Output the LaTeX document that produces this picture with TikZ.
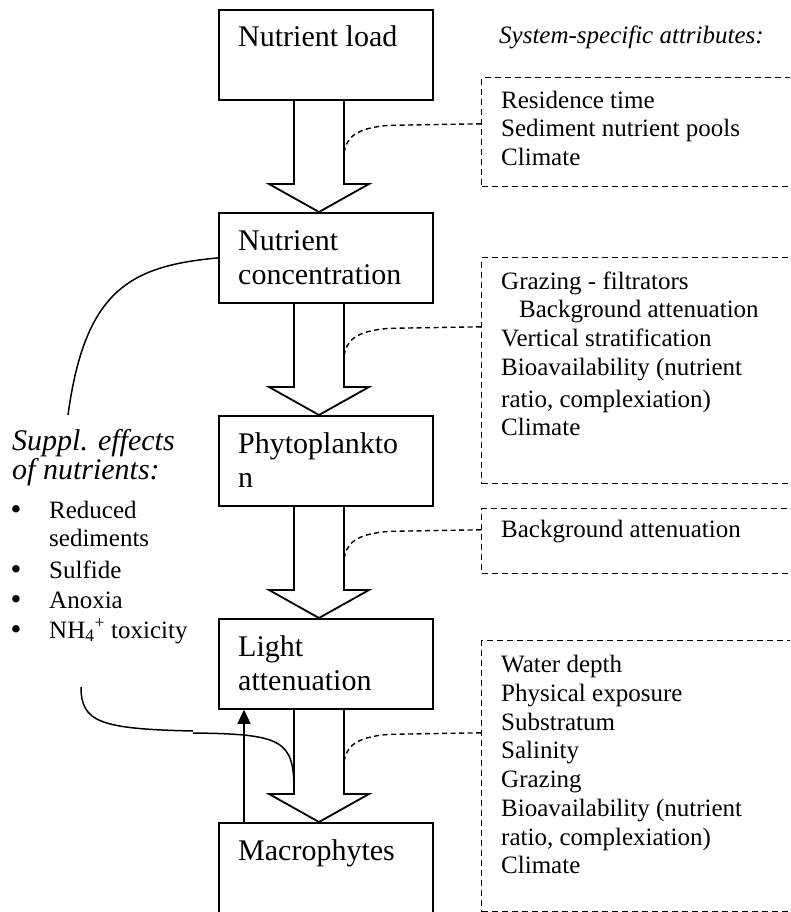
\documentclass[tikz,border=0pt]{standalone}
\usepackage{fontspec}
\setmainfont{Liberation Serif}
\usetikzlibrary{arrows.meta,calc}
\begin{document}
\begin{tikzpicture}[x=1pt,y=-1pt,
  box/.style={draw,line width=1.8pt,minimum width=214pt,minimum height=90pt,inner sep=0pt,anchor=north west},
  boxtxt/.style={font=\fontsize{30}{34}\selectfont,align=left,inner sep=0pt,anchor=north west},
  sidetxt/.style={font=\fontsize{25}{28.7}\selectfont,align=left,inner sep=0pt,anchor=north west},
  attrbox/.style={draw,dash pattern=on 6pt off 4pt,line width=1.4pt,inner sep=0pt,anchor=north west},
  leader/.style={dash pattern=on 5pt off 3.5pt,line width=1.4pt},
  blockarrow/.style={line width=1.8pt,line join=miter},
  curveline/.style={line width=1.5pt},
  bullettxt/.style={font=\fontsize{25}{29}\selectfont,inner sep=0pt,anchor=base west},
  bulletdot/.style={font=\fontsize{31}{34}\selectfont,inner sep=0pt,anchor=base west},
  ital/.style={font=\fontsize{30}{28}\selectfont\itshape,inner sep=0pt,anchor=base west}
]
\clip (0,0) rectangle (790,912);
\fill[white] (0,0) rectangle (790,912);

% main boxes
\node[box] (b1) at (218,9) {};
\node[box] (b2) at (218,212) {};
\node[box] (b3) at (218,415) {};
\node[box] (b4) at (218,618) {};
\node[box,minimum height=93pt] (b5) at (218,822) {};

\node[boxtxt] (b1t) at ($(b1.north west)+(20,14)$) {\strut Nutrient load};
\node[boxtxt] (b2t) at ($(b2.north west)+(20,14)$) {\strut Nutrient\\concentration};
\node[boxtxt] (b3t) at ($(b3.north west)+(20,14)$) {\strut Phytoplankto\\n};
\node[boxtxt] (b4t) at ($(b4.north west)+(20,14)$) {\strut Light\\attenuation};
\node[boxtxt] (b5t) at ($(b5.north west)+(20,14)$) {\strut Macrophytes};

% block arrows
\foreach \u/\v in {b1/b2,b2/b3,b3/b4,b4/b5}
  \draw[blockarrow] ($(\u.south west)+(76,0)$) -- ($(\v.north west)+(76,-28)$)
    -- ($(\v.north west)+(51,-28)$) -- ($(\v.north west)+(101,0)$)
    -- ($(\v.north west)+(151,-28)$) -- ($(\v.north west)+(126,-28)$)
    -- ($(\u.south west)+(126,0)$);

% attribute boxes
\node[font=\fontsize{25}{29}\selectfont\itshape,inner sep=0pt,anchor=base west] (title) at (499,44) {System-specific attributes:};
\node[attrbox,minimum width=330pt,minimum height=109pt] (a1) at (481,77) {};
\node[attrbox,minimum width=330pt,minimum height=226pt] (a2) at (481,257) {};
\node[attrbox,minimum width=330pt,minimum height=65pt] (a3) at (481,508) {};
\node[attrbox,minimum width=330pt,minimum height=271pt] (a4) at (481,640) {};

\node[sidetxt] (a1t) at (501,88) {\strut Residence time\\Sediment nutrient pools\\Climate};
\node[sidetxt] (a2t) at (501,269) {\strut Grazing - filtrators\\\hspace*{18pt}Background attenuation\\Vertical stratification\\Bioavailability (nutrient\\[3pt]ratio, complexiation)\\Climate};
\node[sidetxt] (a3t) at (501,517.5) {\strut Background attenuation};
\node[sidetxt] (a4t) at (501,652.5) {\strut Water depth\\Physical exposure\\Substratum\\Salinity\\Grazing\\Bioavailability (nutrient\\ratio, complexiation)\\Climate};

% dashed leaders
\foreach \u in {b1,b2,b3,b4}
  \draw[leader] ($(\u.south west)+(263,23)$) -- ($(\u.south west)+(172,24.5)$)
    .. controls ($(\u.south west)+(137,27)$) and ($(\u.south west)+(128,37)$) .. ($(\u.south west)+(126,53)$)
    -- ($(\u.south west)+(126,66)$);

% supplementary effects
\node[ital] (sup1) at (12,450) {Suppl. effects};
\node[ital] (sup2) at (12,479) {of nutrients:};
\node[bulletdot] (d1) at (10.5,519.5) {\textbullet};
\node[bullettxt] (e1) at (49,518) {Reduced};
\node[bullettxt] (e1b) at (49,546) {sediments};
\node[bulletdot] (d2) at (10.5,579.5) {\textbullet};
\node[bullettxt] (e2) at (49,578) {Sulfide};
\node[bulletdot] (d3) at (10.5,609.5) {\textbullet};
\node[bullettxt] (e3) at (49,608) {Anoxia};
\node[bulletdot] (d4) at (10.5,639.5) {\textbullet};
\node[bullettxt] (e4) at (49,638) {NH\textsubscript{4}\textsuperscript{+} toxicity};

% curves
\coordinate (c1) at (68,415);
\draw[curveline] (b2.west) .. controls (130,266) and (85,290) .. (c1);
\coordinate (c2) at (81,687);
\coordinate (c3) at (193,731);
\coordinate (c4) at (193,733);
\draw[curveline] (c2) .. controls (81,722) and (100,729) .. (c3);
\draw[curveline] (c4) .. controls (282,734) and (294,740) .. ($(b5.north west)+(76,-32)$) -- ($(b5.north west)+(76,-28)$);

% feedback arrow
\draw[line width=1.5pt,-{Triangle[length=14pt,width=13pt]}] ($(b5.north west)+(26,0)$) -- ($(b4.south west)+(26,0)$);
\end{tikzpicture}
\end{document}
